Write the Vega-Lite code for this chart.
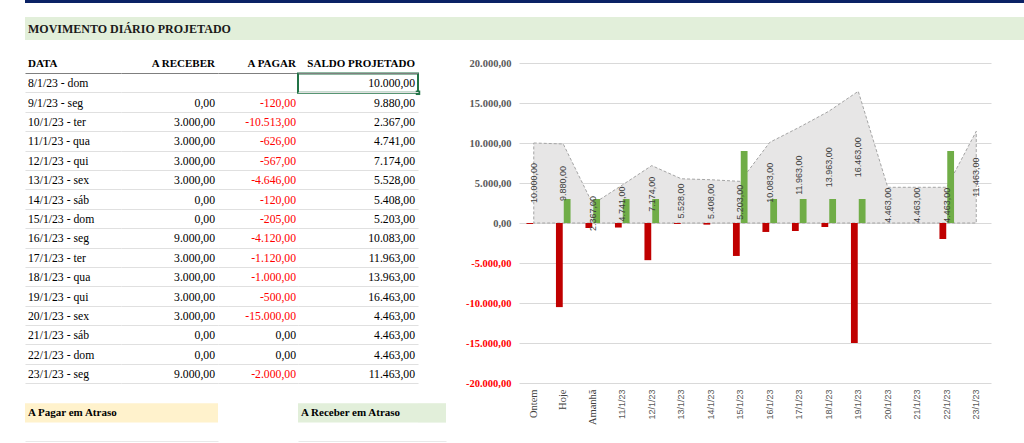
{
  "$schema": "https://vega.github.io/schema/vega-lite/v6.json",
  "padding": {"left": 25, "top": 0, "right": 0, "bottom": 0},
  "background": "white",
  "config": {
    "view": {"stroke": null},
    "font": "Liberation Serif",
    "axis": {"title": null},
    "locale": {"number": {"decimal": ",", "thousands": ".", "grouping": [3], "currency": ["R$ ", ""], "minus": "-"}}
  },
  "datasets": {
    "titulo": [{"texto": "MOVIMENTO DIÁRIO PROJETADO"}],
    "cabecalho": [{"coluna": "DATA"}, {"coluna": "A RECEBER"}, {"coluna": "A PAGAR"}, {"coluna": "SALDO PROJETADO"}],
    "atraso": [{"titulo": "A Pagar em Atraso"}, {"titulo": "A Receber em Atraso"}],
    "tabela": [
      {"data": "8/1/23 - dom", "receber": null, "pagar": null, "saldo": 10000},
      {"data": "9/1/23 - seg", "receber": 0, "pagar": -120, "saldo": 9880},
      {"data": "10/1/23 - ter", "receber": 3000, "pagar": -10513, "saldo": 2367},
      {"data": "11/1/23 - qua", "receber": 3000, "pagar": -626, "saldo": 4741},
      {"data": "12/1/23 - qui", "receber": 3000, "pagar": -567, "saldo": 7174},
      {"data": "13/1/23 - sex", "receber": 3000, "pagar": -4646, "saldo": 5528},
      {"data": "14/1/23 - sáb", "receber": 0, "pagar": -120, "saldo": 5408},
      {"data": "15/1/23 - dom", "receber": 0, "pagar": -205, "saldo": 5203},
      {"data": "16/1/23 - seg", "receber": 9000, "pagar": -4120, "saldo": 10083},
      {"data": "17/1/23 - ter", "receber": 3000, "pagar": -1120, "saldo": 11963},
      {"data": "18/1/23 - qua", "receber": 3000, "pagar": -1000, "saldo": 13963},
      {"data": "19/1/23 - qui", "receber": 3000, "pagar": -500, "saldo": 16463},
      {"data": "20/1/23 - sex", "receber": 3000, "pagar": -15000, "saldo": 4463},
      {"data": "21/1/23 - sáb", "receber": 0, "pagar": 0, "saldo": 4463},
      {"data": "22/1/23 - dom", "receber": 0, "pagar": 0, "saldo": 4463},
      {"data": "23/1/23 - seg", "receber": 9000, "pagar": -2000, "saldo": 11463}
    ],
    "saldo": [
      {"categoria": "Ontem", "saldo": 10000},
      {"categoria": "Hoje", "saldo": 9880},
      {"categoria": "Amanhã", "saldo": 2367},
      {"categoria": "11/1/23", "saldo": 4741},
      {"categoria": "12/1/23", "saldo": 7174},
      {"categoria": "13/1/23", "saldo": 5528},
      {"categoria": "14/1/23", "saldo": 5408},
      {"categoria": "15/1/23", "saldo": 5203},
      {"categoria": "16/1/23", "saldo": 10083},
      {"categoria": "17/1/23", "saldo": 11963},
      {"categoria": "18/1/23", "saldo": 13963},
      {"categoria": "19/1/23", "saldo": 16463},
      {"categoria": "20/1/23", "saldo": 4463},
      {"categoria": "21/1/23", "saldo": 4463},
      {"categoria": "22/1/23", "saldo": 4463},
      {"categoria": "23/1/23", "saldo": 11463}
    ],
    "movimento": [
      {"categoria": "Ontem", "tipo": "A Pagar", "valor": -120},
      {"categoria": "Ontem", "tipo": "A Receber", "valor": 0},
      {"categoria": "Hoje", "tipo": "A Pagar", "valor": -10513},
      {"categoria": "Hoje", "tipo": "A Receber", "valor": 3000},
      {"categoria": "Amanhã", "tipo": "A Pagar", "valor": -626},
      {"categoria": "Amanhã", "tipo": "A Receber", "valor": 3000},
      {"categoria": "11/1/23", "tipo": "A Pagar", "valor": -567},
      {"categoria": "11/1/23", "tipo": "A Receber", "valor": 3000},
      {"categoria": "12/1/23", "tipo": "A Pagar", "valor": -4646},
      {"categoria": "12/1/23", "tipo": "A Receber", "valor": 3000},
      {"categoria": "13/1/23", "tipo": "A Pagar", "valor": -120},
      {"categoria": "13/1/23", "tipo": "A Receber", "valor": 0},
      {"categoria": "14/1/23", "tipo": "A Pagar", "valor": -205},
      {"categoria": "14/1/23", "tipo": "A Receber", "valor": 0},
      {"categoria": "15/1/23", "tipo": "A Pagar", "valor": -4120},
      {"categoria": "15/1/23", "tipo": "A Receber", "valor": 9000},
      {"categoria": "16/1/23", "tipo": "A Pagar", "valor": -1120},
      {"categoria": "16/1/23", "tipo": "A Receber", "valor": 3000},
      {"categoria": "17/1/23", "tipo": "A Pagar", "valor": -1000},
      {"categoria": "17/1/23", "tipo": "A Receber", "valor": 3000},
      {"categoria": "18/1/23", "tipo": "A Pagar", "valor": -500},
      {"categoria": "18/1/23", "tipo": "A Receber", "valor": 3000},
      {"categoria": "19/1/23", "tipo": "A Pagar", "valor": -15000},
      {"categoria": "19/1/23", "tipo": "A Receber", "valor": 3000},
      {"categoria": "20/1/23", "tipo": "A Pagar", "valor": 0},
      {"categoria": "20/1/23", "tipo": "A Receber", "valor": 0},
      {"categoria": "21/1/23", "tipo": "A Pagar", "valor": 0},
      {"categoria": "21/1/23", "tipo": "A Receber", "valor": 0},
      {"categoria": "22/1/23", "tipo": "A Pagar", "valor": -2000},
      {"categoria": "22/1/23", "tipo": "A Receber", "valor": 9000}
    ]
  },
  "spacing": 14,
  "vconcat": [
    {
      "width": 999, "height": 3,
      "data": {"name": "titulo"},
      "mark": {"type": "rect", "color": "#0b2265"},
      "encoding": {}
    },
    {
      "width": 999, "height": 23,
      "data": {"name": "titulo"},
      "layer": [
        {"mark": {"type": "rect", "color": "#e2efda"}, "encoding": {}},
        {
          "mark": {"type": "text", "align": "left", "baseline": "middle", "dx": 3, "fontSize": 12, "fontWeight": "bold", "color": "#1a1a1a"},
          "encoding": {
            "x": {"datum": 0, "type": "quantitative", "scale": {"domain": [0, 1]}, "axis": null},
            "text": {"field": "texto"}
          }
        }
      ]
    },
    {
      "spacing": 19,
      "hconcat": [
        {
          "spacing": 0,
          "bounds": "flush",
          "hconcat": [
            {
              "width": 96, "height": 388,
              "layer": [
                {
                  "data": {"name": "tabela"},
                  "mark": {"type": "text", "align": "left", "baseline": "middle", "dx": 3, "fontSize": 11.7, "color": "#000000"},
                  "encoding": {
                    "y": {"field": "data", "type": "nominal",
                      "scale": {"type": "band", "domain": ["header","8/1/23 - dom","9/1/23 - seg","10/1/23 - ter","11/1/23 - qua","12/1/23 - qui","13/1/23 - sex","14/1/23 - sáb","15/1/23 - dom","16/1/23 - seg","17/1/23 - ter","18/1/23 - qua","19/1/23 - qui","20/1/23 - sex","21/1/23 - sáb","22/1/23 - dom","23/1/23 - seg","gap","footer","gap2"], "paddingInner": 0, "paddingOuter": 0},
                      "axis": {"title": null, "labels": false, "ticks": false, "domain": false, "grid": true, "bandPosition": 1, "gridWidth": 1.2,
                        "gridColor": {"condition": [{"test": "datum.value == 'header'", "value": "#7f7f7f"}, {"test": "indexof(datum.value + '', '/') > 0", "value": "#e0e0e0"}], "value": "rgba(0,0,0,0)"}}},
                    "x": {"datum": 0, "type": "quantitative", "scale": {"domain": [0, 1]},
                      "axis": {"orient": "bottom", "title": null, "labels": false, "ticks": false, "grid": false, "domain": true, "domainColor": "#a6a6a6", "domainWidth": 1.5}},
                    "text": {"field": "data"}
                  }
                },
                {
                  "data": {"name": "cabecalho"},
                  "transform": [{"filter": "datum.coluna == 'DATA'"}],
                  "mark": {"type": "text", "align": "left", "baseline": "middle", "dx": 3, "fontSize": 11, "fontWeight": "bold", "color": "#000000"},
                  "encoding": {"y": {"datum": "header", "type": "nominal"}, "x": {"datum": 0, "type": "quantitative"}, "text": {"field": "coluna"}}
                },
                {
                  "data": {"name": "atraso"},
                  "transform": [{"filter": "datum.titulo == 'A Pagar em Atraso'"}],
                  "mark": {"type": "rect", "color": "#fff2cc"},
                  "encoding": {"y": {"datum": "footer", "type": "nominal"}}
                },
                {
                  "data": {"name": "atraso"},
                  "transform": [{"filter": "datum.titulo == 'A Pagar em Atraso'"}],
                  "mark": {"type": "text", "align": "left", "baseline": "middle", "dx": 3, "fontSize": 11, "fontWeight": "bold", "color": "#000000"},
                  "encoding": {"y": {"datum": "footer", "type": "nominal"}, "x": {"datum": 0, "type": "quantitative"}, "text": {"field": "titulo"}}
                }
              ]
            },
            {
              "width": 97, "height": 388,
              "layer": [
                {
                  "data": {"name": "atraso"},
                  "transform": [{"filter": "datum.titulo == 'A Pagar em Atraso'"}],
                  "mark": {"type": "rect", "color": "#fff2cc"},
                  "encoding": {
                    "y": {"datum": "footer", "type": "nominal",
                      "scale": {"type": "band", "domain": ["header","8/1/23 - dom","9/1/23 - seg","10/1/23 - ter","11/1/23 - qua","12/1/23 - qui","13/1/23 - sex","14/1/23 - sáb","15/1/23 - dom","16/1/23 - seg","17/1/23 - ter","18/1/23 - qua","19/1/23 - qui","20/1/23 - sex","21/1/23 - sáb","22/1/23 - dom","23/1/23 - seg","gap","footer","gap2"], "paddingInner": 0, "paddingOuter": 0},
                      "axis": {"title": null, "labels": false, "ticks": false, "domain": false, "grid": true, "bandPosition": 1, "gridWidth": 1.2,
                        "gridColor": {"condition": [{"test": "datum.value == 'header'", "value": "#7f7f7f"}, {"test": "indexof(datum.value + '', '/') > 0", "value": "#e0e0e0"}], "value": "rgba(0,0,0,0)"}}}
                  }
                },
                {
                  "data": {"name": "tabela"},
                  "transform": [{"filter": "isValid(datum.receber)"}],
                  "mark": {"type": "text", "align": "right", "baseline": "middle", "dx": -3, "fontSize": 11.7, "color": "#000000"},
                  "encoding": {
                    "y": {"field": "data", "type": "nominal"},
                    "x": {"datum": 1, "type": "quantitative", "scale": {"domain": [0, 1]},
                      "axis": {"orient": "bottom", "title": null, "labels": false, "ticks": false, "grid": false, "domain": true, "domainColor": "#a6a6a6", "domainWidth": 1.5}},
                    "text": {"field": "receber", "type": "quantitative", "format": ",.2f"}
                  }
                },
                {
                  "data": {"name": "cabecalho"},
                  "transform": [{"filter": "datum.coluna == 'A RECEBER'"}],
                  "mark": {"type": "text", "align": "right", "baseline": "middle", "dx": -3, "fontSize": 11, "fontWeight": "bold", "color": "#000000"},
                  "encoding": {"y": {"datum": "header", "type": "nominal"}, "x": {"datum": 1, "type": "quantitative"}, "text": {"field": "coluna"}}
                }
              ]
            },
            {
              "width": 80, "height": 388,
              "layer": [
                {
                  "data": {"name": "cabecalho"},
                  "transform": [{"filter": "datum.coluna == 'A PAGAR'"}],
                  "mark": {"type": "text", "align": "right", "baseline": "middle", "dx": -2, "fontSize": 11, "fontWeight": "bold", "color": "#000000"},
                  "encoding": {
                    "y": {"datum": "header", "type": "nominal",
                      "scale": {"type": "band", "domain": ["header","8/1/23 - dom","9/1/23 - seg","10/1/23 - ter","11/1/23 - qua","12/1/23 - qui","13/1/23 - sex","14/1/23 - sáb","15/1/23 - dom","16/1/23 - seg","17/1/23 - ter","18/1/23 - qua","19/1/23 - qui","20/1/23 - sex","21/1/23 - sáb","22/1/23 - dom","23/1/23 - seg","gap","footer","gap2"], "paddingInner": 0, "paddingOuter": 0},
                      "axis": {"title": null, "labels": false, "ticks": false, "domain": false, "grid": true, "bandPosition": 1, "gridWidth": 1.2,
                        "gridColor": {"condition": [{"test": "datum.value == 'header'", "value": "#7f7f7f"}, {"test": "indexof(datum.value + '', '/') > 0", "value": "#e0e0e0"}], "value": "rgba(0,0,0,0)"}}},
                    "x": {"datum": 1, "type": "quantitative", "scale": {"domain": [0, 1]}, "axis": null},
                    "text": {"field": "coluna"}
                  }
                },
                {
                  "data": {"name": "tabela"},
                  "transform": [{"filter": "isValid(datum.pagar)"}],
                  "mark": {"type": "text", "align": "right", "baseline": "middle", "dx": -2, "fontSize": 11.7},
                  "encoding": {
                    "y": {"field": "data", "type": "nominal"},
                    "x": {"datum": 1, "type": "quantitative"},
                    "text": {"field": "pagar", "type": "quantitative", "format": ",.2f"},
                    "color": {"condition": {"test": "datum.pagar < 0", "value": "#ff0000"}, "value": "#000000"}
                  }
                }
              ]
            },
            {
              "width": 120, "height": 388,
              "layer": [
                {
                  "data": {"name": "atraso"},
                  "transform": [{"filter": "datum.titulo == 'A Receber em Atraso'"}],
                  "mark": {"type": "rect", "color": "#e2efda"},
                  "encoding": {
                    "y": {"datum": "footer", "type": "nominal",
                      "scale": {"type": "band", "domain": ["header","8/1/23 - dom","9/1/23 - seg","10/1/23 - ter","11/1/23 - qua","12/1/23 - qui","13/1/23 - sex","14/1/23 - sáb","15/1/23 - dom","16/1/23 - seg","17/1/23 - ter","18/1/23 - qua","19/1/23 - qui","20/1/23 - sex","21/1/23 - sáb","22/1/23 - dom","23/1/23 - seg","gap","footer","gap2"], "paddingInner": 0, "paddingOuter": 0},
                      "axis": {"title": null, "labels": false, "ticks": false, "domain": false, "grid": true, "bandPosition": 1, "gridWidth": 1.2,
                        "gridColor": {"condition": [{"test": "datum.value == 'header'", "value": "#7f7f7f"}, {"test": "indexof(datum.value + '', '/') > 0", "value": "#e0e0e0"}], "value": "rgba(0,0,0,0)"}}}
                  }
                },
                {
                  "data": {"name": "tabela"},
                  "transform": [{"filter": "datum.data == '8/1/23 - dom'"}],
                  "mark": {"type": "rect", "filled": false, "color": "#217346", "strokeWidth": 2},
                  "encoding": {"y": {"field": "data", "type": "nominal"}}
                },
                {
                  "data": {"name": "tabela"},
                  "transform": [{"filter": "datum.data == '8/1/23 - dom'"}],
                  "mark": {"type": "square", "size": 20, "filled": true, "opacity": 1, "color": "#217346"},
                  "encoding": {
                    "y": {"field": "data", "type": "nominal", "bandPosition": 1},
                    "x": {"datum": 1, "type": "quantitative"}
                  }
                },
                {
                  "data": {"name": "tabela"},
                  "mark": {"type": "text", "align": "right", "baseline": "middle", "dx": -3, "fontSize": 11.7, "color": "#000000"},
                  "encoding": {
                    "y": {"field": "data", "type": "nominal"},
                    "x": {"datum": 1, "type": "quantitative", "scale": {"domain": [0, 1]},
                      "axis": {"orient": "bottom", "title": null, "labels": false, "ticks": false, "grid": false, "domain": true, "domainColor": "#a6a6a6", "domainWidth": 1.5}},
                    "text": {"field": "saldo", "type": "quantitative", "format": ",.2f"}
                  }
                },
                {
                  "data": {"name": "cabecalho"},
                  "transform": [{"filter": "datum.coluna == 'SALDO PROJETADO'"}],
                  "mark": {"type": "text", "align": "right", "baseline": "middle", "dx": -3, "fontSize": 11, "fontWeight": "bold", "color": "#000000"},
                  "encoding": {"y": {"datum": "header", "type": "nominal"}, "x": {"datum": 1, "type": "quantitative"}, "text": {"field": "coluna"}}
                },
                {
                  "data": {"name": "atraso"},
                  "transform": [{"filter": "datum.titulo == 'A Receber em Atraso'"}],
                  "mark": {"type": "text", "align": "left", "baseline": "middle", "dx": 3, "fontSize": 11, "fontWeight": "bold", "color": "#000000"},
                  "encoding": {"y": {"datum": "footer", "type": "nominal"}, "x": {"datum": 0, "type": "quantitative"}, "text": {"field": "titulo"}}
                }
              ]
            },
            {
              "width": 28, "height": 388,
              "data": {"name": "atraso"},
              "transform": [{"filter": "datum.titulo == 'A Receber em Atraso'"}],
              "mark": {"type": "rect", "color": "#e2efda"},
              "encoding": {
                "y": {"datum": "footer", "type": "nominal",
                  "scale": {"type": "band", "domain": ["header","8/1/23 - dom","9/1/23 - seg","10/1/23 - ter","11/1/23 - qua","12/1/23 - qui","13/1/23 - sex","14/1/23 - sáb","15/1/23 - dom","16/1/23 - seg","17/1/23 - ter","18/1/23 - qua","19/1/23 - qui","20/1/23 - sex","21/1/23 - sáb","22/1/23 - dom","23/1/23 - seg","gap","footer","gap2"], "paddingInner": 0, "paddingOuter": 0},
                  "axis": null},
                "x": {"datum": 0, "type": "quantitative", "scale": {"domain": [0, 1]},
                  "axis": {"orient": "bottom", "title": null, "labels": false, "ticks": false, "grid": false, "domain": true, "domainColor": "#a6a6a6", "domainWidth": 1.5}},
                "x2": {"datum": 1}
              }
            }
          ]
        },
        {
          "width": 472, "height": 329,
          "encoding": {
            "x": {"field": "categoria", "type": "nominal", "sort": null,
              "scale": {"type": "band", "domain": ["Ontem","Hoje","Amanhã","11/1/23","12/1/23","13/1/23","14/1/23","15/1/23","16/1/23","17/1/23","18/1/23","19/1/23","20/1/23","21/1/23","22/1/23","23/1/23"], "paddingInner": 0, "paddingOuter": 0},
              "axis": {"title": null, "labelAngle": 270, "domain": false, "ticks": false, "grid": false, "labelPadding": 6,
                "labelFont": {"condition": {"test": "indexof(['Ontem','Hoje','Amanhã'], datum.value) >= 0", "value": "Liberation Serif"}, "value": "Liberation Sans"},
                "labelFontSize": {"condition": {"test": "indexof(['Ontem','Hoje','Amanhã'], datum.value) >= 0", "value": 10.5}, "value": 9},
                "labelColor": {"condition": {"test": "indexof(['Ontem','Hoje','Amanhã'], datum.value) >= 0", "value": "#404040"}, "value": "#595959"}}}
          },
          "layer": [
            {
              "data": {"name": "saldo"},
              "mark": {"type": "area", "fill": "#e7e6e6", "stroke": "#a5a5a5", "strokeDash": [3, 2], "strokeWidth": 1, "opacity": 1},
              "encoding": {
                "y": {"field": "saldo", "type": "quantitative",
                  "scale": {"domain": [-20000, 21125], "nice": false, "zero": false},
                  "axis": {"values": [-20000, -15000, -10000, -5000, 0, 5000, 10000, 15000, 20000], "format": ",.2f", "title": null, "domain": false, "ticks": false, "grid": true, "gridColor": "#d9d9d9", "gridWidth": 1,
                    "labelFont": "Liberation Serif", "labelFontWeight": "bold", "labelFontSize": 10.5, "labelPadding": 8,
                    "labelColor": {"condition": {"test": "datum.value < 0", "value": "#ff0000"}, "value": "#595959"}}}
              }
            },
            {
              "data": {"name": "movimento"},
              "mark": {"type": "bar"},
              "encoding": {
                "xOffset": {"field": "tipo", "type": "nominal", "scale": {"domain": ["A Pagar", "A Receber"], "paddingInner": 0.13, "paddingOuter": 0.954}},
                "y": {"field": "valor", "type": "quantitative", "scale": {"domain": [-20000, 21125], "nice": false}, "axis": null},
                "color": {"field": "tipo", "type": "nominal", "scale": {"domain": ["A Pagar", "A Receber"], "range": ["#c00000", "#70ad47"]}, "legend": null}
              }
            },
            {
              "data": {"name": "saldo"},
              "mark": {"type": "text", "angle": 270, "font": "Liberation Sans", "fontSize": 9, "color": "#404040", "align": "center", "baseline": "middle"},
              "encoding": {
                "y": {"field": "saldo", "type": "quantitative", "scale": {"domain": [-40000, 42250], "nice": false, "zero": false}, "axis": null},
                "text": {"field": "saldo", "type": "quantitative", "format": ",.2f"}
              }
            }
          ],
          "resolve": {"scale": {"y": "independent"}}
        }
      ]
    }
  ]
}
